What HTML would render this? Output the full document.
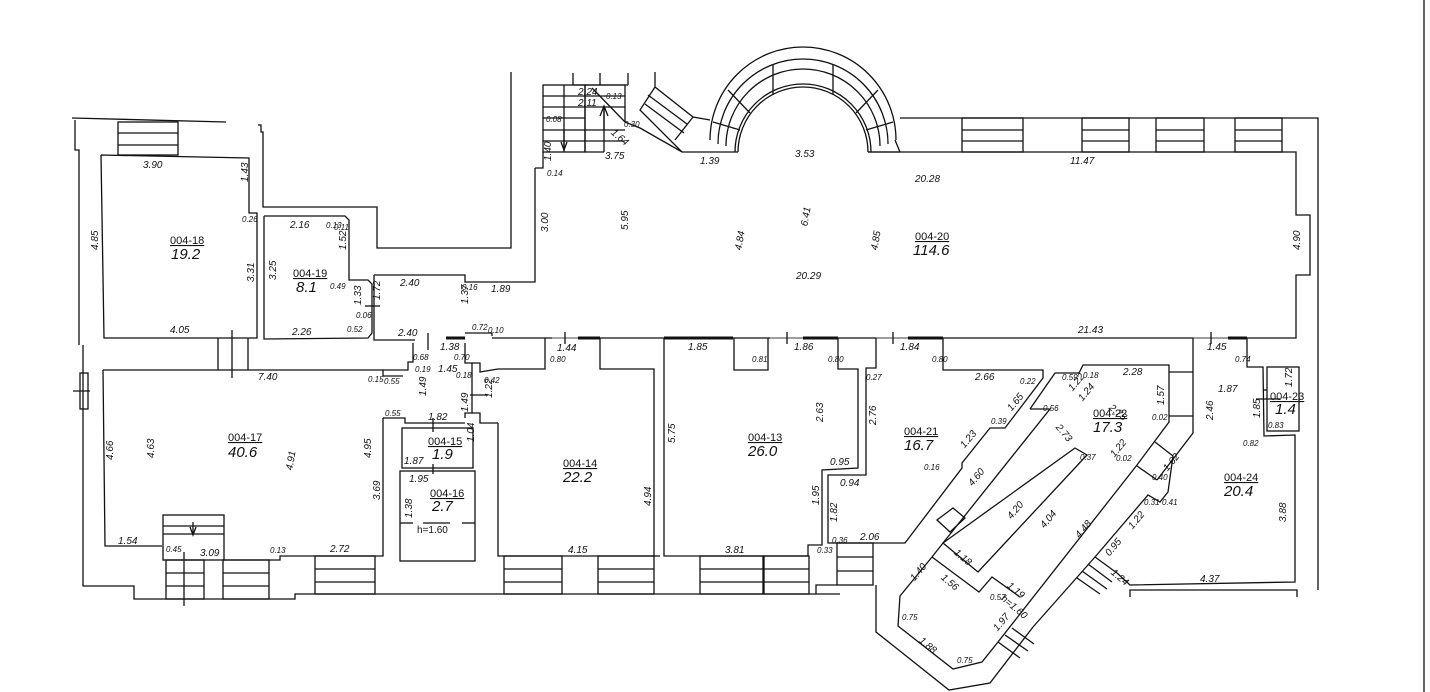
<!DOCTYPE html>
<html><head><meta charset="utf-8"><style>
html,body{margin:0;padding:0;background:#fff;}
svg{display:block;}
text{font-family:"Liberation Sans",sans-serif;font-style:italic;fill:#111;}
.d{font-size:10px;}
.s{font-size:8px;}
.n{font-size:11px;font-style:normal;text-decoration:underline;}
.a{font-size:15px;}
</style></head><body>
<svg width="1430" height="692" viewBox="0 0 1430 692" xmlns="http://www.w3.org/2000/svg">
<g fill="none" stroke="#111" stroke-width="1.3">
<line x1="1424" y1="0" x2="1424" y2="692"/>
<polyline points="72,118 226,122"/>
<polyline points="75,120 75,150 79,150 79,345"/>
<polyline points="258,125 261,125 261,132 263,132 263,207 377,207 377,248 511,248 511,72"/>
<rect x="118" y="122" width="60" height="33"/>
<line x1="118" y1="133" x2="178" y2="133"/><line x1="118" y1="145" x2="178" y2="145"/>
<polyline points="101,155 249,158 249,213 257,213 257,338 104,338 101,155"/>
<line x1="232" y1="330" x2="232" y2="378"/>
<line x1="218" y1="338" x2="218" y2="370"/><line x1="248" y1="338" x2="248" y2="370"/>
<polyline points="264,216 345,216 349,220 349,280 368,280 372,284 372,333 368,338 264,339 264,216"/>
<line x1="365" y1="306" x2="380" y2="306"/>
<polyline points="374,275 465,275 465,282 535,282 535,168"/>
<polyline points="374,275 374,340 415,340"/>
<line x1="446" y1="338" x2="465" y2="338" stroke-width="3"/>
<polyline points="465,333 492,333 492,336"/>
<line x1="428" y1="333" x2="428" y2="350"/>
<polyline points="535,168 543,168 543,152"/>
<polyline points="492,338 1296,338 1296,275 1310,275 1310,215 1296,215 1296,152 868,152"/>
<polyline points="625,122 640,128 682,152 738,152"/>
<line x1="552" y1="338" x2="578" y2="338" stroke-width="1" stroke="#888"/>
<line x1="578" y1="338" x2="600" y2="338" stroke-width="3"/>
<line x1="664" y1="338" x2="733" y2="338" stroke-width="3"/>
<line x1="770" y1="338" x2="803" y2="338" stroke="#888"/>
<line x1="803" y1="338" x2="838" y2="338" stroke-width="3"/>
<line x1="876" y1="338" x2="908" y2="338" stroke="#888"/>
<line x1="908" y1="338" x2="943" y2="338" stroke-width="3"/>
<line x1="1193" y1="338" x2="1228" y2="338" stroke="#888"/>
<line x1="1228" y1="338" x2="1247" y2="338" stroke-width="3"/>
<line x1="565" y1="332" x2="565" y2="344"/><line x1="787" y1="332" x2="787" y2="344"/>
<line x1="893" y1="332" x2="893" y2="344"/><line x1="1211" y1="332" x2="1211" y2="344"/>
<rect x="543" y="85" width="42" height="67"/>
<line x1="543" y1="96" x2="585" y2="96"/><line x1="543" y1="107" x2="585" y2="107"/><line x1="543" y1="118" x2="585" y2="118"/><line x1="543" y1="130" x2="585" y2="130"/><line x1="543" y1="141" x2="585" y2="141"/>
<line x1="564" y1="85" x2="564" y2="152"/>
<polyline points="585,85 625,85 625,122"/>
<line x1="585" y1="96" x2="625" y2="96"/><line x1="585" y1="107" x2="625" y2="107"/><line x1="585" y1="130" x2="625" y2="130"/><line x1="585" y1="141" x2="625" y2="141"/>
<line x1="585" y1="152" x2="604" y2="152"/>
<line x1="585" y1="85" x2="585" y2="152"/><line x1="604" y1="107" x2="604" y2="152"/>
<line x1="592" y1="88" x2="625" y2="122"/>
<polyline points="573,73 573,85"/><polyline points="600,73 600,85"/><polyline points="628,73 628,85"/>
<line x1="573" y1="85" x2="628" y2="85"/>
<line x1="564" y1="130" x2="564" y2="150"/><polyline points="561,142 564,150 567,142"/>
<line x1="604" y1="130" x2="604" y2="108"/><polyline points="600,116 604,106 608,116"/>
<polyline points="655,72 655,87 693,117 710,120"/>
<polyline points="655,87 640,110 682,152"/>
<polyline points="693,117 675,140"/>
<line x1="648" y1="95" x2="687" y2="124"/><line x1="645" y1="104" x2="684" y2="133"/>
<path d="M738,152 A65,65 0 0 1 868,152"/>
<path d="M735,152 A68,68 0 0 1 871,152"/>
<path d="M726,146 A77,77 0 0 1 880,146"/>
<path d="M718,144 A85,85 0 0 1 888,144"/>
<path d="M710,140 A93,93 0 0 1 896,140"/>
<line x1="773" y1="95" x2="773" y2="65"/><line x1="833" y1="95" x2="833" y2="65"/>
<line x1="750" y1="113" x2="728" y2="90"/><line x1="856" y1="113" x2="878" y2="90"/>
<line x1="740" y1="130" x2="713" y2="122"/><line x1="866" y1="130" x2="893" y2="122"/>
<line x1="895" y1="140" x2="900" y2="152"/><line x1="868" y1="152" x2="900" y2="152"/>
<polyline points="900,118 1318,118 1318,590"/>
<g>
<rect x="962" y="118" width="61" height="34"/><line x1="962" y1="130" x2="1023" y2="130"/><line x1="962" y1="141" x2="1023" y2="141"/>
<rect x="1082" y="118" width="47" height="34"/><line x1="1082" y1="130" x2="1129" y2="130"/><line x1="1082" y1="141" x2="1129" y2="141"/>
<rect x="1156" y="118" width="48" height="34"/><line x1="1156" y1="130" x2="1204" y2="130"/><line x1="1156" y1="141" x2="1204" y2="141"/>
<rect x="1235" y="118" width="47" height="34"/><line x1="1235" y1="130" x2="1282" y2="130"/><line x1="1235" y1="141" x2="1282" y2="141"/>
</g>
<polyline points="413,343 413,362 408,362 408,370 383,370 383,376 403,376"/>
<polyline points="465,343 465,363 472,363 472,413 465,413 465,418"/>
<polyline points="472,363 480,363 480,372 498,369"/>
<polyline points="472,413 480,413 480,423 498,423"/>
<line x1="470" y1="395" x2="488" y2="395"/>
<polyline points="383,418 405,418 405,423 465,423"/>
<line x1="433" y1="418" x2="433" y2="432"/>
<rect x="402" y="428" width="71" height="40"/>
<line x1="433" y1="464" x2="433" y2="474"/>
<rect x="400" y="471" width="75" height="90"/>
<line x1="400" y1="523" x2="413" y2="523"/><line x1="423" y1="523" x2="450" y2="523"/><line x1="462" y1="523" x2="475" y2="523"/>
<polyline points="103,370 383,370"/>
<polyline points="103,370 105,546 162,546"/>
<polyline points="383,418 383,556 280,556 280,560 224,560"/>
<rect x="163" y="515" width="61" height="45"/>
<line x1="163" y1="526" x2="224" y2="526"/><line x1="163" y1="534" x2="224" y2="534"/>
<line x1="193" y1="522" x2="193" y2="534"/><polyline points="190,527 193,535 196,527"/>
<line x1="184" y1="552" x2="184" y2="606"/>
<polyline points="83,345 83,586 134,586 134,599 295,599 295,594 840,594"/>
<rect x="80" y="373" width="8" height="36"/><line x1="73" y1="391" x2="90" y2="391"/>
<rect x="166" y="560" width="38" height="39"/><line x1="166" y1="573" x2="204" y2="573"/><line x1="166" y1="586" x2="204" y2="586"/>
<rect x="223" y="560" width="46" height="39"/><line x1="223" y1="573" x2="269" y2="573"/><line x1="223" y1="586" x2="269" y2="586"/>
<rect x="315" y="556" width="60" height="38"/><line x1="315" y1="569" x2="375" y2="569"/><line x1="315" y1="582" x2="375" y2="582"/>
<polyline points="498,369 545,369 545,338"/>
<polyline points="600,338 600,369 654,369 654,556 498,556 498,423"/>
<rect x="504" y="556" width="58" height="38"/><line x1="504" y1="569" x2="562" y2="569"/><line x1="504" y1="582" x2="562" y2="582"/>
<rect x="598" y="556" width="56" height="38"/><line x1="598" y1="569" x2="654" y2="569"/><line x1="598" y1="582" x2="654" y2="582"/>
<line x1="654" y1="556" x2="660" y2="556"/>
<polyline points="664,338 664,556 808,556 808,545 822,545 822,470 858,468 858,369 838,369 838,338"/>
<polyline points="734,338 734,370 768,370 768,338"/>
<rect x="700" y="556" width="63" height="38"/><line x1="700" y1="569" x2="763" y2="569"/><line x1="700" y1="582" x2="763" y2="582"/>
<rect x="764" y="556" width="45" height="38"/><line x1="764" y1="569" x2="809" y2="569"/><line x1="764" y1="582" x2="809" y2="582"/>
<polyline points="816,594 816,585 837,585"/>
<polyline points="876,338 876,368 866,368 866,475 828,475 828,543 905,543 962,468 962,463 990,428 1005,428 1043,378 1043,370 943,370 943,338"/>
<rect x="837" y="543" width="36" height="42"/><line x1="837" y1="557" x2="873" y2="557"/><line x1="837" y1="571" x2="873" y2="571"/>
<polyline points="876,585 876,632 949,690 990,683 1033,627"/>
<polyline points="1030,409 1050,409 943,543 932,557"/>
<polyline points="1030,409 1055,373 1079,373 1083,365 1169,365 1169,422 1137,465 998,642"/>
<line x1="1169" y1="372" x2="1193" y2="372"/><line x1="1169" y1="416" x2="1193" y2="416"/>
<polygon points="1075,448 1087,455 978,572 943,543"/>
<polygon points="937,520 953,508 965,518 950,532"/>
<polyline points="932,557 979,592 992,577 1020,597"/>
<polyline points="932,557 900,596 898,626 953,669 982,662 998,642"/>
<line x1="998" y1="642" x2="1020" y2="658"/><line x1="1005" y1="635" x2="1028" y2="651"/><line x1="1012" y1="628" x2="1034" y2="644"/>
<polyline points="1193,338 1193,433 1157,480"/>
<line x1="1155" y1="442" x2="1173" y2="456"/><line x1="1137" y1="466" x2="1157" y2="480"/>
<polyline points="1173,456 1168,492 1160,502 1148,495 1095,557 1033,627"/>
<polyline points="1247,338 1247,367 1263,367 1264,436 1295,435 1295,582 1130,585 1117,573"/>
<line x1="1095" y1="557" x2="1117" y2="573"/>
<line x1="1088" y1="564" x2="1112" y2="582"/><line x1="1082" y1="571" x2="1107" y2="589"/><line x1="1077" y1="578" x2="1100" y2="594"/>
<polyline points="1130,597 1130,590 1297,590 1297,597"/>
<rect x="1267" y="367" width="32" height="64"/>
<line x1="1263" y1="390" x2="1267" y2="390"/><line x1="1256" y1="399" x2="1280" y2="399"/>
</g>
<g class="d">
<text x="143" y="168">3.90</text>
<text x="240" y="182" transform="rotate(-90 244 178)">1.43</text>
<text x="90" y="250" transform="rotate(-90 94 246)">4.85</text>
<text x="244" y="280" transform="rotate(-90 250 276)">3.31</text>
<text x="170" y="333">4.05</text>
<text x="290" y="228">2.16</text>
<text x="338" y="250" transform="rotate(-90 342 246)">1.52</text>
<text x="268" y="280" transform="rotate(-90 272 276)">3.25</text>
<text x="292" y="335">2.26</text>
<text x="372" y="300" transform="rotate(-90 376 296)">1.72</text>
<text x="353" y="305" transform="rotate(-90 357 301)">1.33</text>
<text x="400" y="286">2.40</text>
<text x="398" y="336">2.40</text>
<text x="440" y="350">1.38</text>
<text x="438" y="372">1.45</text>
<text x="468" y="296" transform="rotate(-90 472 300)">1.37</text>
<text x="491" y="292">1.89</text>
<text x="540" y="232" transform="rotate(-90 544 228)">3.00</text>
<text x="620" y="230" transform="rotate(-90 624 226)">5.95</text>
<text x="605" y="159">3.75</text>
<text x="700" y="164">1.39</text>
<text x="795" y="157">3.53</text>
<text x="1070" y="164">11.47</text>
<text x="915" y="182">20.28</text>
<text x="796" y="279">20.29</text>
<text x="1078" y="333">21.43</text>
<text x="1290" y="248" transform="rotate(-90 1296 244)">4.90</text>
<text x="734" y="250" transform="rotate(-80 738 246)">4.84</text>
<text x="800" y="226" transform="rotate(-80 804 222)">6.41</text>
<text x="870" y="250" transform="rotate(-80 874 246)">4.85</text>
<text x="258" y="380">7.40</text>
<text x="105" y="460" transform="rotate(-90 109 456)">4.66</text>
<text x="146" y="458" transform="rotate(-90 150 454)">4.63</text>
<text x="285" y="470" transform="rotate(-80 289 466)">4.91</text>
<text x="363" y="458" transform="rotate(-90 367 454)">4.95</text>
<text x="372" y="500" transform="rotate(-90 376 496)">3.69</text>
<text x="118" y="544">1.54</text>
<text x="200" y="556">3.09</text>
<text x="330" y="552">2.72</text>
<text x="428" y="420">1.82</text>
<text x="404" y="464">1.87</text>
<text x="409" y="482">1.95</text>
<text x="404" y="518" transform="rotate(-90 408 514)">1.38</text>
<text x="417" y="533" style="font-style:normal">h=1.60</text>
<text x="418" y="396" transform="rotate(-90 422 392)">1.49</text>
<text x="460" y="412" transform="rotate(-90 464 408)">1.49</text>
<text x="484" y="398" transform="rotate(-90 488 394)">1.22</text>
<text x="466" y="442" transform="rotate(-90 470 438)">1.04</text>
<text x="557" y="351">1.44</text>
<text x="643" y="506" transform="rotate(-90 647 502)">4.94</text>
<text x="568" y="553">4.15</text>
<text x="688" y="350">1.85</text>
<text x="794" y="350">1.86</text>
<text x="667" y="443" transform="rotate(-90 671 439)">5.75</text>
<text x="815" y="422" transform="rotate(-90 819 418)">2.63</text>
<text x="830" y="465">0.95</text>
<text x="840" y="486">0.94</text>
<text x="811" y="505" transform="rotate(-90 815 501)">1.95</text>
<text x="829" y="522" transform="rotate(-90 833 518)">1.82</text>
<text x="725" y="553">3.81</text>
<text x="860" y="540">2.06</text>
<text x="900" y="350">1.84</text>
<text x="868" y="425" transform="rotate(-90 872 421)">2.76</text>
<text x="975" y="380">2.66</text>
<text x="1123" y="375">2.28</text>
<text x="1156" y="405" transform="rotate(-90 1160 401)">1.57</text>
<text x="1205" y="420" transform="rotate(-90 1209 416)">2.46</text>
<text x="1207" y="350">1.45</text>
<text x="1218" y="392">1.87</text>
<text x="1252" y="418" transform="rotate(-90 1256 414)">1.85</text>
<text x="1284" y="387" transform="rotate(-90 1288 383)">1.72</text>
<text x="1278" y="522" transform="rotate(-90 1282 518)">3.88</text>
<text x="1200" y="582">4.37</text>
<text x="1110" y="412" transform="rotate(40 1114 408)">2.75</text>
<text x="1057" y="432" transform="rotate(50 1061 428)">2.73</text>
<text x="1007" y="410" transform="rotate(-50 1011 406)">1.65</text>
<text x="960" y="447" transform="rotate(-50 964 443)">1.23</text>
<text x="968" y="485" transform="rotate(-50 972 481)">4.60</text>
<text x="1007" y="518" transform="rotate(-50 1011 514)">4.20</text>
<text x="1040" y="527" transform="rotate(-50 1044 523)">4.04</text>
<text x="1075" y="537" transform="rotate(-50 1079 533)">4.48</text>
<text x="1110" y="456" transform="rotate(-50 1114 452)">1.22</text>
<text x="1163" y="470" transform="rotate(-50 1167 466)">1.62</text>
<text x="1128" y="528" transform="rotate(-50 1132 524)">1.22</text>
<text x="1105" y="555" transform="rotate(-50 1109 551)">0.95</text>
<text x="1112" y="577" transform="rotate(40 1116 573)">1.24</text>
<text x="955" y="557" transform="rotate(40 959 553)">1.18</text>
<text x="910" y="580" transform="rotate(-50 914 576)">1.40</text>
<text x="942" y="582" transform="rotate(40 946 578)">1.56</text>
<text x="1008" y="590" transform="rotate(40 1012 586)">1.19</text>
<text x="1002" y="603" transform="rotate(40 1006 599)">h=1.60</text>
<text x="993" y="630" transform="rotate(-50 997 626)">1.97</text>
<text x="920" y="645" transform="rotate(40 924 641)">1.88</text>
<text x="1068" y="390" transform="rotate(-50 1072 386)">1.22</text>
<text x="1078" y="400" transform="rotate(-50 1082 396)">1.24</text>
<text x="612" y="137" transform="rotate(40 616 133)">1.64</text>
<text x="578" y="95">2.24</text>
<text x="578" y="106">2.11</text>
<text x="542" y="160" transform="rotate(-90 547 156)">1.40</text>
</g>
<g class="s">
<text x="242" y="222">0.26</text><text x="326" y="228">0.13</text><text x="334" y="230">0.11</text>
<text x="330" y="289">0.49</text><text x="356" y="318">0.06</text>
<text x="347" y="332">0.52</text>
<text x="472" y="330">0.72</text><text x="488" y="333">0.10</text><text x="462" y="290">0.16</text>
<text x="368" y="382">0.15</text><text x="384" y="384">0.55</text><text x="415" y="372">0.19</text>
<text x="385" y="416">0.55</text><text x="456" y="378">0.18</text><text x="484" y="383">0.42</text>
<text x="413" y="360">0.68</text><text x="454" y="360">0.70</text>
<text x="550" y="362">0.80</text><text x="752" y="362">0.81</text><text x="828" y="362">0.80</text>
<text x="932" y="362">0.80</text><text x="1235" y="362">0.74</text>
<text x="866" y="380">0.27</text><text x="1020" y="384">0.22</text><text x="991" y="424">0.39</text>
<text x="1043" y="411">0.56</text><text x="1062" y="380">0.59</text><text x="1083" y="378">0.18</text>
<text x="1152" y="420">0.02</text><text x="1268" y="428">0.83</text><text x="1243" y="446">0.82</text>
<text x="1116" y="461">0.02</text><text x="1080" y="460">0.37</text>
<text x="270" y="553">0.13</text><text x="166" y="552">0.45</text><text x="817" y="553">0.33</text><text x="832" y="543">0.36</text>
<text x="547" y="176">0.14</text><text x="546" y="122">0.08</text><text x="606" y="99">0.13</text><text x="624" y="127">0.30</text>
<text x="902" y="620">0.75</text><text x="957" y="663">0.75</text><text x="990" y="600">0.57</text>
<text x="924" y="470">0.16</text><text x="1152" y="480">0.40</text><text x="1144" y="505">0.31</text><text x="1162" y="505">0.41</text>
</g>
<g>
<text class="n" x="170" y="244">004-18</text><text class="a" x="171" y="259">19.2</text>
<text class="n" x="293" y="277">004-19</text><text class="a" x="296" y="292">8.1</text>
<text class="n" x="915" y="240">004-20</text><text class="a" x="913" y="255">114.6</text>
<text class="n" x="228" y="441">004-17</text><text class="a" x="228" y="457">40.6</text>
<text class="n" x="428" y="445">004-15</text><text class="a" x="432" y="459">1.9</text>
<text class="n" x="430" y="497">004-16</text><text class="a" x="432" y="511">2.7</text>
<text class="n" x="563" y="467">004-14</text><text class="a" x="563" y="482">22.2</text>
<text class="n" x="748" y="441">004-13</text><text class="a" x="748" y="456">26.0</text>
<text class="n" x="904" y="435">004-21</text><text class="a" x="904" y="450">16.7</text>
<text class="n" x="1093" y="417">004-22</text><text class="a" x="1093" y="432">17.3</text>
<text class="n" x="1270" y="400">004-23</text><text class="a" x="1275" y="414">1.4</text>
<text class="n" x="1224" y="481">004-24</text><text class="a" x="1224" y="496">20.4</text>
</g>
</svg>
</body></html>
